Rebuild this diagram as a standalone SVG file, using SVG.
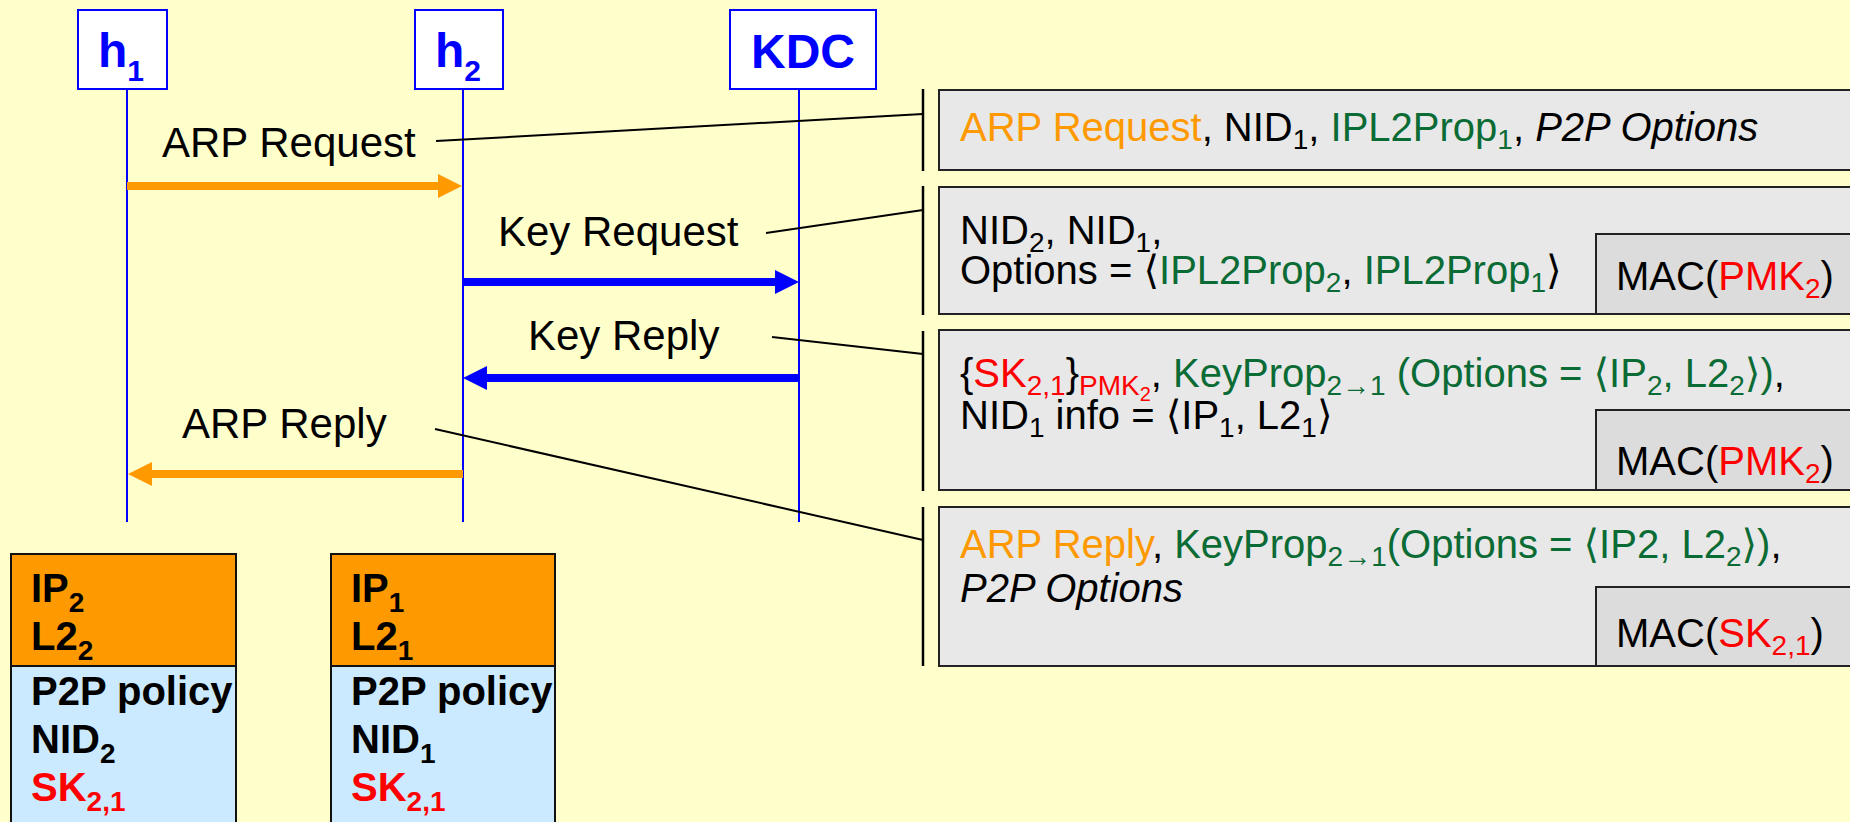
<svg xmlns="http://www.w3.org/2000/svg" width="1850" height="822" viewBox="0 0 1850 822">
  <defs>
    <style>
      text { font-family: "Liberation Sans", Arial, "DejaVu Sans", sans-serif; }
      .hdr rect { fill: #ffffff; stroke: #0000ff; stroke-width: 2; }
      .hdr text { fill: #0000ff; font-weight: bold; font-size: 48px; }
      .life { stroke: #0000ff; stroke-width: 2; }
      .msg { font-size: 42px; fill: #000; }
      .arr-o { stroke: #ff9900; stroke-width: 8; fill: none; }
      .arr-b { stroke: #0000ff; stroke-width: 8; fill: none; }
      .lead { stroke: #000; stroke-width: 2; fill: none; }
      .brk { stroke: #000; stroke-width: 2.5; }
      .pkt { fill: #e8e8e8; stroke: #222; stroke-width: 2; }
      .mac { fill: #dcdcdc; stroke: #222; stroke-width: 2; }
      .pt { font-size: 40px; fill: #000; }
      .s { font-size: 28px; }
      .ss { font-size: 20px; }
      .g { fill: #0b6b35; }
      .r { fill: #ff0000; }
      .o { fill: #ff9900; }
      .it { font-style: italic; }
      .st-top { fill: #ff9900; stroke: #111; stroke-width: 2; }
      .st-bot { fill: #cceaff; stroke: #111; stroke-width: 2; }
      .stt { font-size: 40px; font-weight: bold; fill: #000; }
      .stt.key { fill: #ff0000; }
    </style>
    <marker id="ah-o" markerUnits="userSpaceOnUse" markerWidth="24" markerHeight="24" refX="4" refY="12" orient="auto">
      <path d="M0,0 L24,12 L0,24 z" fill="#ff9900"/>
    </marker>
    <marker id="ah-b" markerUnits="userSpaceOnUse" markerWidth="24" markerHeight="24" refX="4" refY="12" orient="auto">
      <path d="M0,0 L24,12 L0,24 z" fill="#0000ff"/>
    </marker>
  </defs>

  <rect x="0" y="0" width="1850" height="822" fill="#ffffcc"/>

  <!-- lifelines -->
  <g id="lifelines">
    <line class="life" x1="127" y1="89" x2="127" y2="522"/>
    <line class="life" x1="463" y1="89" x2="463" y2="522"/>
    <line class="life" x1="799" y1="89" x2="799" y2="522"/>
  </g>

  <!-- participants -->
  <g id="node-h1" class="hdr">
    <rect x="78" y="10" width="89" height="79"/>
    <text x="121" y="67" text-anchor="middle">h<tspan font-size="30" dy="14">1</tspan></text>
  </g>
  <g id="node-h2" class="hdr">
    <rect x="415" y="10" width="88" height="79"/>
    <text x="458" y="67" text-anchor="middle">h<tspan font-size="30" dy="14">2</tspan></text>
  </g>
  <g id="node-kdc" class="hdr">
    <rect x="730" y="10" width="146" height="79"/>
    <text x="803" y="68" text-anchor="middle">KDC</text>
  </g>

  <!-- messages and leader lines -->
  <g id="connectors">
    <line class="arr-o" x1="127" y1="186" x2="442" y2="186" marker-end="url(#ah-o)"/>
    <line class="arr-b" x1="463" y1="282" x2="779" y2="282" marker-end="url(#ah-b)"/>
    <line class="arr-b" x1="799" y1="378" x2="483" y2="378" marker-end="url(#ah-b)"/>
    <line class="arr-o" x1="463" y1="474" x2="148" y2="474" marker-end="url(#ah-o)"/>

    <polyline class="lead" points="436,141 923,114"/>
    <polyline class="lead" points="766,233 923,210"/>
    <polyline class="lead" points="772,337 923,354"/>
    <polyline class="lead" points="435,429 923,540"/>

    <line class="brk" x1="923" y1="89" x2="923" y2="171"/>
    <line class="brk" x1="923" y1="186" x2="923" y2="315"/>
    <line class="brk" x1="923" y1="331" x2="923" y2="491"/>
    <line class="brk" x1="923" y1="507" x2="923" y2="666"/>
  </g>

  <g id="labels">
    <text class="msg" x="162" y="157">ARP Request</text>
    <text class="msg" x="498" y="246">Key Request</text>
    <text class="msg" x="528" y="350">Key Reply</text>
    <text class="msg" x="182" y="438">ARP Reply</text>
  </g>

  <!-- packet contents -->
  <g id="pkt-arp-request">
    <rect class="pkt" x="939" y="90" width="930" height="80"/>
    <text class="pt" x="960" y="141"><tspan class="o">ARP Request</tspan>, NID<tspan class="s" dy="8">1</tspan><tspan dy="-8">, </tspan><tspan class="g">IPL2Prop</tspan><tspan class="g s" dy="8">1</tspan><tspan dy="-8">, </tspan><tspan class="it">P2P Options</tspan></text>
  </g>

  <g id="pkt-key-request">
    <rect class="pkt" x="939" y="187" width="930" height="127"/>
    <text class="pt" x="960" y="244">NID<tspan class="s" dy="8">2</tspan><tspan dy="-8">, NID</tspan><tspan class="s" dy="8">1</tspan><tspan dy="-8">,</tspan></text>
    <text class="pt" x="960" y="284">Options = ⟨<tspan class="g">IPL2Prop</tspan><tspan class="g s" dy="8">2</tspan><tspan dy="-8">, </tspan><tspan class="g">IPL2Prop</tspan><tspan class="g s" dy="8">1</tspan><tspan dy="-8">⟩</tspan></text>
    <rect class="mac" x="1596" y="234" width="273" height="80"/>
    <text class="pt" x="1616" y="290">MAC(<tspan class="r">PMK</tspan><tspan class="r s" dy="8">2</tspan><tspan dy="-8">)</tspan></text>
  </g>

  <g id="pkt-key-reply">
    <rect class="pkt" x="939" y="330" width="930" height="160"/>
    <text class="pt" x="960" y="387">{<tspan class="r">SK</tspan><tspan class="r s" dy="8">2,1</tspan><tspan dy="-8">}</tspan><tspan class="r s" dy="8">PMK</tspan><tspan class="r ss" dy="6">2</tspan><tspan dy="-14">, </tspan><tspan class="g">KeyProp</tspan><tspan class="g s" dy="8">2→1</tspan><tspan class="g" dy="-8"> (Options = ⟨IP</tspan><tspan class="g s" dy="8">2</tspan><tspan class="g" dy="-8">, L2</tspan><tspan class="g s" dy="8">2</tspan><tspan class="g" dy="-8">⟩)</tspan>,</text>
    <text class="pt" x="960" y="429">NID<tspan class="s" dy="8">1</tspan><tspan dy="-8"> info = ⟨IP</tspan><tspan class="s" dy="8">1</tspan><tspan dy="-8">, L2</tspan><tspan class="s" dy="8">1</tspan><tspan dy="-8">⟩</tspan></text>
    <rect class="mac" x="1596" y="410" width="273" height="80"/>
    <text class="pt" x="1616" y="475">MAC(<tspan class="r">PMK</tspan><tspan class="r s" dy="8">2</tspan><tspan dy="-8">)</tspan></text>
  </g>

  <g id="pkt-arp-reply">
    <rect class="pkt" x="939" y="507" width="930" height="159"/>
    <text class="pt" x="960" y="558"><tspan class="o">ARP Reply</tspan>, <tspan class="g">KeyProp</tspan><tspan class="g s" dy="8">2→1</tspan><tspan class="g" dy="-8">(Options = ⟨IP2, L2</tspan><tspan class="g s" dy="8">2</tspan><tspan class="g" dy="-8">⟩)</tspan>,</text>
    <text class="pt it" x="960" y="602">P2P Options</text>
    <rect class="mac" x="1596" y="587" width="273" height="79"/>
    <text class="pt" x="1616" y="647">MAC(<tspan class="r">SK</tspan><tspan class="r s" dy="8">2,1</tspan><tspan dy="-8">)</tspan></text>
  </g>

  <!-- host state tables -->
  <g id="state-h1">
    <rect class="st-top" x="11" y="554" width="225" height="112"/>
    <rect class="st-bot" x="11" y="666" width="225" height="170"/>
    <text class="stt" x="31" y="602">IP<tspan font-size="28" dy="10">2</tspan></text>
    <text class="stt" x="31" y="650">L2<tspan font-size="28" dy="10">2</tspan></text>
    <text class="stt" x="31" y="705">P2P policy</text>
    <text class="stt" x="31" y="753">NID<tspan font-size="28" dy="10">2</tspan></text>
    <text class="stt key" x="31" y="801">SK<tspan font-size="28" dy="10">2,1</tspan></text>
  </g>
  <g id="state-h2">
    <rect class="st-top" x="331" y="554" width="224" height="112"/>
    <rect class="st-bot" x="331" y="666" width="224" height="170"/>
    <text class="stt" x="351" y="602">IP<tspan font-size="28" dy="10">1</tspan></text>
    <text class="stt" x="351" y="650">L2<tspan font-size="28" dy="10">1</tspan></text>
    <text class="stt" x="351" y="705">P2P policy</text>
    <text class="stt" x="351" y="753">NID<tspan font-size="28" dy="10">1</tspan></text>
    <text class="stt key" x="351" y="801">SK<tspan font-size="28" dy="10">2,1</tspan></text>
  </g>
</svg>
